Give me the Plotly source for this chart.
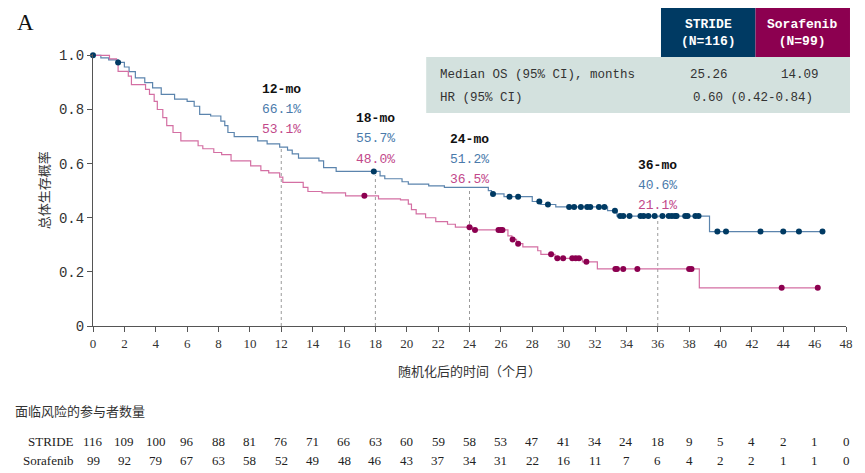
import plotly.graph_objects as go

# Kaplan-Meier steps (months, survival after the drop)
stride_t = [0, 0.5, 1.0, 1.6, 2.0, 2.3, 2.7, 3.3, 3.8, 4.35, 5.2, 6.0, 6.45, 6.8, 7.5, 8.15,
            8.4, 8.6, 9.0, 10.5, 11.1, 11.9, 12.4, 12.7, 13.1, 14.4, 14.7, 15.5, 18.3, 18.6,
            19.7, 20.1, 21.4, 22.4, 25.2, 25.4, 26.2, 28.0, 28.55, 29.5, 32.8, 33.4, 39.3, 46.5]
stride_s = [1.0, 0.991, 0.983, 0.974, 0.957, 0.94, 0.917, 0.899, 0.88, 0.856, 0.838, 0.83,
            0.812, 0.782, 0.776, 0.757, 0.74, 0.715, 0.70, 0.684, 0.673, 0.661, 0.65, 0.636,
            0.62, 0.61, 0.585, 0.571, 0.555, 0.544, 0.533, 0.524, 0.518, 0.512, 0.50, 0.488,
            0.478, 0.46, 0.449, 0.44, 0.426, 0.406, 0.349, 0.349]
stride_cens = [0, 1.6, 17.9, 25.5, 26.55, 27.1, 28.45, 29.0, 30.35, 30.67, 31.1, 31.5, 31.7,
               32.25, 32.6, 33.27, 33.6, 33.8, 34.2, 34.9, 35.1, 35.4, 35.8, 36.3, 36.7, 36.9,
               37.1, 37.2, 37.75, 37.9, 38.4, 38.6, 39.8, 40.35, 42.55, 44.0, 45.0, 46.5]

sora_t = [0, 1.05, 1.5, 1.6, 2.25, 2.45, 3.35, 3.6, 3.9, 4.1, 4.45, 4.7, 5.1, 5.6, 6.7, 7.0,
          7.7, 8.2, 8.8, 10.05, 10.7, 11.2, 11.9, 12.1, 13.4, 13.7, 14.6, 16.1, 18.2, 19.6,
          20.1, 20.3, 20.6, 21.2, 21.85, 22.6, 23.1, 24.2, 26.45, 26.7, 27.0, 27.4, 28.35,
          28.55, 29.45, 31.2, 32.15, 38.65, 46.2]
sora_s = [1.0, 0.987, 0.972, 0.941, 0.923, 0.892, 0.874, 0.856, 0.83, 0.80, 0.77, 0.74, 0.715,
          0.684, 0.666, 0.655, 0.641, 0.633, 0.61, 0.592, 0.574, 0.566, 0.55, 0.531, 0.512,
          0.497, 0.492, 0.481, 0.47, 0.466, 0.45, 0.43, 0.414, 0.40, 0.386, 0.376, 0.365,
          0.355, 0.333, 0.32, 0.304, 0.292, 0.278, 0.265, 0.25, 0.237, 0.211, 0.141, 0.141]
sora_cens = [17.3, 24.0, 24.35, 25.85, 26.0, 26.1, 26.75, 27.1, 29.2, 29.6, 29.97, 30.55,
             30.77, 30.98, 31.45, 33.3, 33.4, 33.8, 34.7, 38.0, 38.15, 43.9, 46.2]

# landmark survival
landmarks = [12, 18, 24, 36]
stride_pct = [66.1, 55.7, 51.2, 40.6]
sora_pct = [53.1, 48.0, 36.5, 21.1]

# number at risk
risk_times = list(range(0, 49, 2))
stride_risk = [116, 109, 100, 96, 88, 81, 76, 71, 66, 63, 60, 59, 58, 53, 47, 41, 34, 24, 18,
               9, 5, 4, 2, 1, 0]
sora_risk = [99, 92, 79, 67, 63, 58, 52, 49, 48, 46, 43, 37, 34, 31, 22, 16, 11, 7, 6, 4, 2,
             2, 1, 1, 0]

NAVY = "#003a63"
MAGENTA = "#8c0050"
BLUE_LINE = "#5b84ad"
PINK_LINE = "#d46fa3"
BLUE_TXT = "#4a7aab"
PINK_TXT = "#c2488a"
MONO = "Liberation Mono"
SERIF = "Liberation Serif"
CJK = "Noto Sans CJK SC"


def surv_at(times, surv, t):
    val = surv[0]
    for ti, si in zip(times, surv):
        if ti <= t:
            val = si
    return val


def note(x, y, text, font, xanchor="center", xref="paper", yref="paper", **kw):
    fig.add_annotation(x=x, y=y, text=text, xref=xref, yref=yref, xanchor=xanchor,
                       yanchor="middle", showarrow=False, font=font, **kw)


fig = go.Figure()

fig.add_trace(go.Scatter(x=stride_t, y=stride_s, mode="lines", line_shape="hv",
                         line=dict(color=BLUE_LINE, width=1.2), showlegend=False))
fig.add_trace(go.Scatter(x=sora_t, y=sora_s, mode="lines", line_shape="hv",
                         line=dict(color=PINK_LINE, width=1.2), showlegend=False))
fig.add_trace(go.Scatter(x=stride_cens, y=[surv_at(stride_t, stride_s, c) for c in stride_cens],
                         mode="markers", marker=dict(color=NAVY, size=6), cliponaxis=False,
                         showlegend=False))
fig.add_trace(go.Scatter(x=sora_cens, y=[surv_at(sora_t, sora_s, c) for c in sora_cens],
                         mode="markers", marker=dict(color=MAGENTA, size=6), cliponaxis=False,
                         showlegend=False))

# dotted landmark lines and labels
label_top = [0.875, 0.765, 0.688, 0.592]
for lm, bp, sp, top in zip(landmarks, stride_pct, sora_pct, label_top):
    fig.add_shape(type="line", x0=lm, x1=lm, y0=0, y1=bp / 100, xref="x", yref="y",
                  line=dict(color="#9a9a9a", width=1, dash="dot"), layer="below")
    note(lm, top, "<b>%d-mo</b>" % lm, dict(family=MONO, size=13, color="#111"),
         xref="x", yref="y")
    note(lm, top - 0.074, "%.1f%%" % bp, dict(family=MONO, size=13, color=BLUE_TXT),
         xref="x", yref="y")
    note(lm, top - 0.148, "%.1f%%" % sp, dict(family=MONO, size=13, color=PINK_TXT),
         xref="x", yref="y")

# summary table at top right
fig.add_shape(type="rect", xref="paper", yref="paper", x0=0.4425, x1=1.0053, y0=0.783, y1=0.989,
              fillcolor="#d3e1de", line_width=0, layer="below")
fig.add_shape(type="rect", xref="paper", yref="paper", x0=0.7543, x1=0.8798, y0=0.989, y1=1.169,
              fillcolor=NAVY, line_width=0, layer="below")
fig.add_shape(type="rect", xref="paper", yref="paper", x0=0.8798, x1=1.0053, y0=0.989, y1=1.169,
              fillcolor=MAGENTA, line_width=0, layer="below")
head_font = dict(family=MONO, size=13, color="white")
note(0.817, 1.079, "<b>STRIDE<br>(N=116)</b>", head_font)
note(0.942, 1.079, "<b>Sorafenib<br>(N=99)</b>", head_font)
cell_font = dict(family=MONO, size=12.5, color="#333")
note(0.458, 0.923, "Median OS (95% CI), months", cell_font, xanchor="left")
note(0.458, 0.838, "HR (95% CI)", cell_font, xanchor="left")
note(0.8177, 0.923, "25.26", cell_font)
note(0.939, 0.923, "14.09", cell_font)
note(0.877, 0.838, "0.60 (0.42-0.84)", cell_font)

# panel letter and axis titles
note(-0.103, 1.115, "A", dict(family=SERIF, size=23, color="#111"), xanchor="left")
note(-0.066, 0.5, "总体生存概率", dict(family=CJK, size=13, color="#333"), textangle=-90)
note(0.5, -0.165, "随机化后的时间（个月）", dict(family=CJK, size=13, color="#333"))

# number at risk table
note(-0.106, -0.309, "面临风险的参与者数量", dict(family=CJK, size=13, color="#333"),
     xanchor="left")
risk_font = dict(family=SERIF, size=13, color="#222")
for name, row, yy in [("STRIDE", stride_risk, -0.423), ("Sorafenib", sora_risk, -0.493)]:
    note(-0.022, yy, name, risk_font, xanchor="right")
    for t, n in zip(risk_times, row):
        note(t, yy, str(n), risk_font, xref="x")

fig.update_layout(
    width=857, height=465,
    margin=dict(l=85, r=13, t=46, b=147),
    paper_bgcolor="white", plot_bgcolor="white",
    xaxis=dict(range=[0, 48], tickvals=risk_times, showgrid=False, zeroline=False,
               showline=True, linecolor="#555", linewidth=1, ticks="outside", ticklen=5,
               tickcolor="#555", tickfont=dict(family=SERIF, size=13, color="#333")),
    yaxis=dict(range=[0, 1.005], tickvals=[0, 0.2, 0.4, 0.6, 0.8, 1.0],
               ticktext=["0", "0.2", "0.4", "0.6", "0.8", "1.0"], showgrid=False,
               zeroline=False, showline=True, linecolor="#555", linewidth=1, ticks="outside",
               ticklen=5, tickcolor="#555", tickfont=dict(family=MONO, size=14, color="#333")),
)

fig.write_html("out.html")
